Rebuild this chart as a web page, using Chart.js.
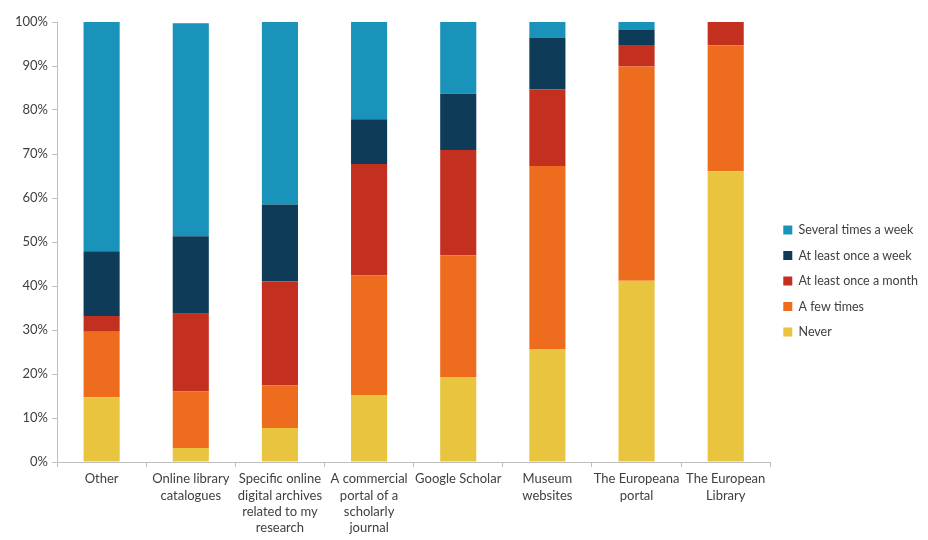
<!DOCTYPE html>
<html>
<head>
<meta charset="utf-8">
<script src="https://cdn.jsdelivr.net/npm/chart.js@4/dist/chart.umd.min.js"></script>
<style>
  html, body { margin: 0; padding: 0; background: #fff; }
  #wrap { width: 928px; height: 540px; position: relative; }
</style>
</head>
<body>
<div id="wrap"><canvas id="usage-chart"></canvas></div>
<script>
const categories = [
  'Other',
  ['Online library', 'catalogues'],
  ['Specific online', 'digital archives', 'related to my', 'research'],
  ['A commercial', 'portal of a', 'scholarly', 'journal'],
  'Google Scholar',
  ['Museum', 'websites'],
  ['The Europeana', 'portal'],
  ['The European', 'Library'],
];

// percent of respondents, stacked bottom to top
const never         = [14.7,  3.2,  7.7, 15.2, 19.2, 25.7, 41.2, 66.1];
const aFewTimes     = [14.9, 12.8,  9.7, 27.2, 27.8, 41.6, 48.7, 28.6];
const onceAMonth    = [ 3.6, 17.7, 23.6, 25.3, 23.9, 17.4,  4.9,  5.3];
const onceAWeek     = [14.7, 17.6, 17.5, 10.2, 12.8, 11.8,  3.4,  0];
const severalAWeek  = [52.1, 48.4, 41.5, 22.1, 16.3,  3.5,  1.8,  0];

const yTicks = [0, 10, 20, 30, 40, 50, 60, 70, 80, 90, 100];

const textColor = '#404040';
const axisColor = '#bfbfbf';

const series = [
  { label: 'Never', data: never, color: '#e8c43f' },
  { label: 'A few times', data: aFewTimes, color: '#ee6c1e' },
  { label: 'At least once a month', data: onceAMonth, color: '#c3301f' },
  { label: 'At least once a week', data: onceAWeek, color: '#0e3c58' },
  { label: 'Several times a week', data: severalAWeek, color: '#1a93bb' },
];

const data = {
  labels: categories,
  datasets: series.map(s => ({
    label: s.label,
    data: s.data,
    backgroundColor: s.color,
    borderWidth: 0,
    categoryPercentage: 1,
    barPercentage: 0.405,
  })),
};

const config = {
  type: 'bar',
  data: data,
  options: {
    responsive: true,
    maintainAspectRatio: false,
    animation: false,
    layout: {
      padding: { top: 22, right: 0, bottom: 0, left: 11 },
    },
    scales: {
      x: {
        stacked: true,
        grid: {
          drawOnChartArea: false,
          drawTicks: true,
          tickLength: 5,
          color: axisColor,
        },
        border: { color: axisColor, width: 1 },
        ticks: {
          color: textColor,
          maxRotation: 0,
          autoSkip: false,
          padding: 4,
          font: { family: 'Lato', size: 13, lineHeight: 1.25 },
        },
      },
      y: {
        stacked: true,
        min: 0,
        max: 100,
        afterBuildTicks: axis => {
          axis.ticks = yTicks.map(v => ({ value: v }));
        },
        grid: {
          drawOnChartArea: false,
          drawTicks: true,
          tickLength: 5,
          color: axisColor,
        },
        border: { color: axisColor, width: 1 },
        ticks: {
          color: textColor,
          padding: 4,
          font: { family: 'Lato', size: 13 },
          callback: v => v + '%',
        },
      },
    },
    plugins: {
      legend: {
        position: 'right',
        reverse: true,
        labels: {
          boxWidth: 9,
          boxHeight: 9,
          padding: 13,
          color: textColor,
          font: { family: 'Lato', size: 12.5 },
        },
      },
      tooltip: { enabled: false },
    },
  },
};

new Chart(document.getElementById('usage-chart'), config);
</script>
</body>
</html>
